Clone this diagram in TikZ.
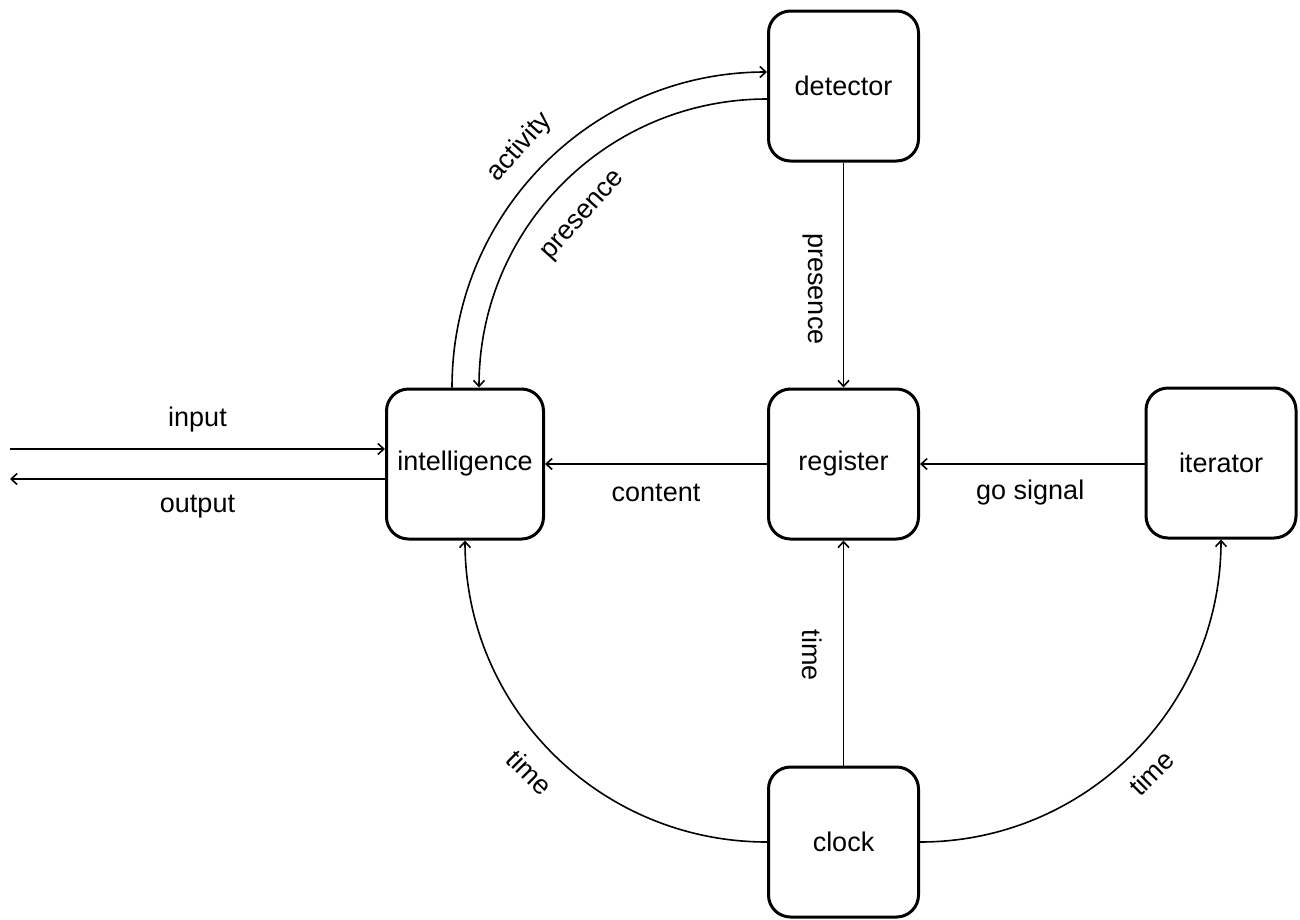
\documentclass[tikz,border=0pt]{standalone}
\usepackage{fontspec}
\setmainfont{Liberation Sans}
\usetikzlibrary{arrows.meta}
\begin{document}
\begin{tikzpicture}[x=1pt,y=1pt,
  block/.style={draw, line width=3pt, rounded corners=22pt,
    minimum width=150pt, minimum height=150pt, inner sep=0pt,
    font=\fontsize{27}{32}\selectfont},
  flow/.style={line width=1.6pt, -{Straight Barb[length=6pt,width=11pt]}},
  plain/.style={line width=1.6pt},
  lbl/.style={font=\fontsize{27}{32}\selectfont, inner sep=0pt}]
  \useasboundingbox (0,0) rectangle (1300,-919);

  % blocks
  \node[block] (det)   at (843.5,-86)  {detector};
  \node[block] (reg)   at (843.5,-464) {register};
  \node[block] (clk)   at (843.5,-842) {clock};
  \node[block, minimum width=157pt] (intel) at (465,-464) {intelligence};
  \node[block] (iter)  at (1221,-463)  {iterator};

  % external input / output
  \coordinate (inL)  at (10,-449);
  \coordinate (outL) at (10,-479);
  \draw[flow] (inL) -- node[lbl, midway, shift={(0,29)}] {input} (intel.west |- inL);
  \draw[flow] (intel.west |- outL) -- node[lbl, midway, shift={(0,-28)}] {output} (outL);

  % straight connections
  \draw[flow] (reg.west) -- node[lbl, midway, shift={(0,-29)}] {content} (intel.east);
  \draw[flow] (iter.west |- reg.east) -- node[lbl, midway, shift={(-2,-29)}] {go signal} (reg.east);
  \draw[flow] (det.south) -- node[lbl, midway, shift={(-31,-14)}, rotate=-90] {presence} (reg.north);
  \draw[flow] (clk.north) -- node[lbl, midway, shift={(-31,-2)}, rotate=-90] {time} (reg.south);

  % arcs between intelligence and detector
  \draw[flow] ([xshift=-13pt]intel.north) to[out=90,in=180]
    node[lbl, pos=0.5, shift={(-24,17)}, rotate=48] {activity} ([yshift=14pt]det.west);
  \draw[flow] ([yshift=-13pt]det.west) to[out=180,in=90]
    node[lbl, pos=0.5, shift={(21,-33)}, rotate=48] {presence} ([xshift=14pt]intel.north);

  % arcs from the clock
  \draw[flow] (clk.west) to[out=180,in=270]
    node[lbl, pos=0.5, shift={(-23.5,-18.5)}, rotate=-45] {time} (intel.south);
  \draw[flow] (clk.east) to[out=0,in=270]
    node[lbl, pos=0.5, shift={(18.5,-19.5)}, rotate=45] {time} (iter.south);
\end{tikzpicture}
\end{document}
